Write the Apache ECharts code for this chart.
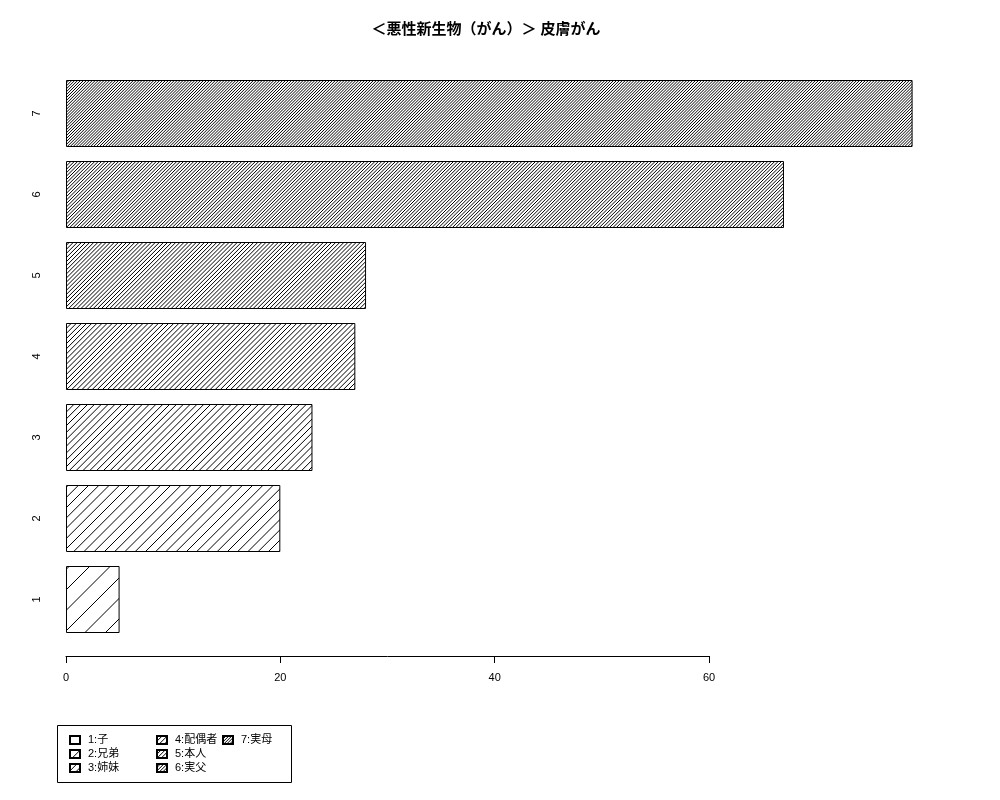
<!DOCTYPE html>
<html>
<head>
<meta charset="utf-8">
<script src="https://cdn.jsdelivr.net/npm/echarts@6/dist/echarts.min.js"></script>
<style>
  body { margin: 0; background: #fff; }
  #chart { width: 1000px; height: 800px; }
</style>
</head>
<body>
<div id="chart"></div>
<script>
var categories = ['1', '2', '3', '4', '5', '6', '7'];
var values = [5, 20, 23, 27, 28, 67, 79];
var legendNames = ['1:子', '2:兄弟', '3:姉妹', '4:配偶者', '5:本人', '6:実父', '7:実母'];
var xTicks = [0, 20, 40, 60];
var titleText = '＜悪性新生物（がん）＞ 皮膚がん';

// hatch density (lines per inch, like R's density=)
var densities = [5, 10, 15, 20, 25, 30, 35];
var FONT = '"Liberation Sans", "Noto Sans CJK JP", sans-serif';

function hatch(density) {
  var N = 41;
  var k = Math.round(density / 2.5);
  var c = document.createElement('canvas');
  c.width = N; c.height = N;
  var ctx = c.getContext('2d');
  ctx.fillStyle = '#fff';
  ctx.fillRect(0, 0, N, N);
  ctx.strokeStyle = '#000';
  ctx.lineWidth = 1;
  ctx.beginPath();
  for (var j = -1; j <= 2; j++) {
    for (var i = 0; i < k; i++) {
      var d = j * N + i * N / k;
      ctx.moveTo(d + 5, -5);
      ctx.lineTo(-5, d + 5);
    }
  }
  ctx.stroke();
  return { image: c, repeat: 'repeat' };
}

var series = categories.map(function (cat, idx) {
  var data = categories.map(function (c, j) { return j === idx ? values[idx] : '-'; });
  return {
    name: legendNames[idx],
    type: 'bar',
    data: data,
    barWidth: 67,
    barGap: '-100%',
    silent: true,
    itemStyle: {
      color: hatch(densities[idx]),
      borderColor: '#000',
      borderWidth: 1
    }
  };
});

var chart = echarts.init(document.getElementById('chart'));
var legendBase = {
  orient: 'vertical',
  top: 734,
  padding: 0,
  itemWidth: 10,
  itemHeight: 8,
  itemGap: 2,
  selectedMode: false,
  icon: 'rect',
  textStyle: { fontFamily: FONT, fontSize: 11, lineHeight: 12, color: '#000', padding: [0, 0, 0, 3] }
};
var options = {
  animation: false,
  backgroundColor: '#fff',
  title: {
    text: titleText,
    left: 486,
    textAlign: 'center',
    top: 22,
    padding: 0,
    textStyle: { fontFamily: FONT, fontSize: 15, fontWeight: 'bold', color: '#000' }
  },
  legend: [
    Object.assign({}, legendBase, { left: 69, data: legendNames.slice(0, 3) }),
    Object.assign({}, legendBase, { left: 156, data: legendNames.slice(3, 6) }),
    Object.assign({}, legendBase, { left: 222, data: legendNames.slice(6) })
  ],
  graphic: [{
    type: 'rect',
    shape: { x: 57.5, y: 725.5, width: 234, height: 57 },
    style: { fill: 'none', stroke: '#000', lineWidth: 1 }
  }],
  grid: [
    { left: 66, top: 73, width: 857.3, height: 567 },
    { left: 66, top: 646, width: 643, height: 10 }
  ],
  xAxis: [{
    gridIndex: 0,
    type: 'value',
    min: 0,
    max: 80,
    show: false
  }, {
    gridIndex: 1,
    type: 'value',
    min: xTicks[0],
    max: xTicks[xTicks.length - 1],
    interval: 20,
    position: 'bottom',
    splitLine: { show: false },
    axisLine: { show: true, lineStyle: { color: '#000', width: 1 } },
    axisTick: { show: true, length: 7, lineStyle: { color: '#000' } },
    axisLabel: { fontFamily: FONT, fontSize: 11, color: '#000', margin: 16 }
  }],
  yAxis: [{
    gridIndex: 0,
    type: 'category',
    data: categories,
    axisLine: { show: false },
    axisTick: { show: false },
    splitLine: { show: false },
    axisLabel: { rotate: 90, fontFamily: FONT, fontSize: 11, color: '#000', margin: 24 }
  }, {
    gridIndex: 1,
    type: 'value',
    show: false
  }],
  series: series
};
chart.setOption(options);
</script>
</body>
</html>
